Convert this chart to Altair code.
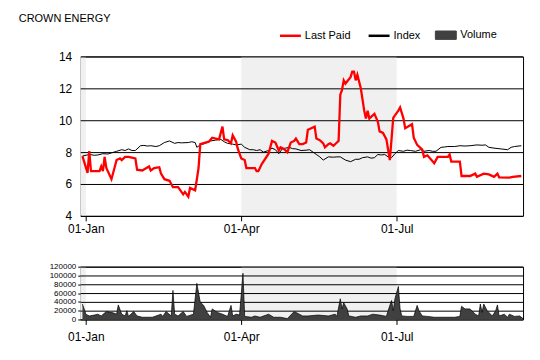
import altair as alt
import pandas as pd

FONT = "Liberation Sans"

# ---------------- data (days counted from 01-Jan) ----------------
price_day = [-2, 1, 2, 3, 8, 9, 10, 11, 12, 15, 18, 20, 21, 23, 25, 29, 30, 33, 37, 38,
             40, 43, 44, 46, 49, 51, 54, 57, 58, 60, 61, 64, 66, 67, 70, 72, 74, 76, 78, 80,
             81, 83, 85, 86, 88, 89, 91, 93, 94, 99, 100, 101, 103, 107, 109, 111, 113, 114, 116, 118,
             120, 122, 123, 125, 127, 129, 130, 132, 134, 135, 137, 139, 140, 142, 143, 145, 147, 148, 149, 150,
             151, 152, 155, 156, 157, 158, 159, 161, 163, 164, 165, 166, 168, 169, 171, 172, 174, 176, 178, 180,
             181, 183, 184, 186, 187, 191, 192, 194, 197, 198, 200, 204, 206, 212, 213, 214, 219, 220, 225, 228,
             229, 233, 236, 239, 241, 242, 248, 250, 255]
price_val = [7.75, 6.7, 8.06, 6.8, 6.8, 7.1, 6.8, 7.7, 7.0, 6.3, 7.5, 7.6, 7.5, 7.7, 7.7, 7.6, 6.9, 6.85, 7.1, 6.85,
             7.0, 7.05, 6.65, 6.3, 6.2, 5.8, 5.8, 5.35, 5.5, 5.2, 5.75, 5.6, 7.0, 8.5, 8.6, 8.65, 8.9, 8.85, 8.8, 9.6,
             8.8, 8.75, 8.55, 9.05, 8.65, 8.2, 7.6, 7.5, 7.0, 7.0, 6.8, 6.8, 7.25, 7.9, 8.7, 8.6, 8.1, 8.3, 8.2, 8.0,
             8.6, 8.7, 8.85, 8.5, 8.5, 8.6, 9.4, 9.5, 9.6, 8.85, 8.75, 8.55, 8.3, 8.5, 8.55, 8.4, 8.6, 8.7, 11.6, 11.9,
             12.5, 12.3, 12.7, 13.05, 13.05, 12.5, 12.85, 12.0, 10.6, 10.1, 10.6, 10.1, 10.3, 10.4, 9.9, 9.3, 9.2, 8.8, 7.5, 10.15,
             10.3, 10.6, 10.8, 10.1, 9.5, 9.75, 8.9, 8.45, 8.15, 7.7, 7.8, 7.3, 7.7, 7.7, 7.85, 7.4, 7.4, 6.5, 6.5, 6.65,
             6.45, 6.65, 6.6, 6.45, 6.65, 6.42, 6.4, 6.45, 6.5]

index_day = [-2, 2, 5, 7, 10, 13, 15, 18, 21, 23, 25, 27, 29, 32, 34, 36, 38, 41, 43, 46,
             49, 52, 54, 56, 60, 62, 64, 65, 67, 70, 73, 76, 79, 81, 83, 86, 88, 91, 93, 96,
             98, 100, 102, 104, 107, 109, 111, 113, 115, 117, 119, 121, 123, 126, 129, 131, 133, 135, 137, 139,
             142, 145, 147, 149, 152, 155, 158, 160, 162, 165, 167, 169, 171, 173, 175, 177, 179, 181, 183, 186,
             188, 190, 193, 196, 198, 201, 203, 205, 208, 210, 212, 216, 219, 222, 225, 229, 232, 234, 236, 239,
             243, 247, 249, 251, 255]
index_val = [7.75, 7.85, 7.8, 7.82, 7.9, 7.88, 7.95, 8.05, 8.15, 8.1, 8.2, 8.1, 8.1, 8.4, 8.42, 8.38, 8.4, 8.35, 8.4, 8.6,
             8.7, 8.55, 8.6, 8.58, 8.6, 8.65, 8.6, 8.3, 8.45, 8.55, 8.7, 8.75, 8.8, 8.65, 8.55, 8.5, 8.45, 8.5, 8.3, 8.15,
             8.15, 8.1, 8.15, 8.0, 8.1, 8.25, 8.15, 7.9, 8.2, 8.25, 8.3, 8.22, 8.2, 8.1, 8.12, 8.15, 8.0, 7.85, 7.7, 7.5,
             7.7, 7.68, 7.7, 7.7, 7.5, 7.4, 7.55, 7.55, 7.65, 7.7, 7.62, 7.65, 7.85, 7.82, 7.85, 7.7, 7.65, 7.9, 8.1, 8.05,
             8.12, 8.1, 8.05, 8.15, 8.05, 8.1, 8.05, 8.05, 8.3, 8.32, 8.35, 8.35, 8.4, 8.38, 8.4, 8.45, 8.43, 8.45, 8.3, 8.25,
             8.2, 8.15, 8.3, 8.35, 8.4]

vol_day = [-2, -1, 0, 2, 5, 7, 9, 12, 16, 18, 19, 21, 23, 24, 25, 28, 30, 33, 39, 44,
           45, 47, 50, 51, 52, 54, 57, 59, 63, 65, 67, 69, 71, 73, 74, 77, 80, 83, 85, 86,
           88, 90, 92, 93, 97, 99, 102, 107, 110, 114, 118, 122, 125, 127, 130, 136, 142, 146, 147, 149,
           150, 151, 153, 154, 158, 161, 165, 168, 172, 176, 177, 179, 180, 181, 183, 184, 185, 188, 192, 194,
           195, 197, 200, 204, 208, 212, 216, 219, 220, 222, 225, 228, 230, 231, 232, 233, 235, 238, 240, 241,
           242, 245, 247, 248, 251, 254, 256]
vol_val = [35000, 24000, 12000, 8000, 10000, 12000, 8000, 18000, 15000, 12000, 33000, 12000, 8000, 20000, 7000, 18000, 8000, 5000, 5000, 12000,
           7000, 18000, 8000, 66000, 12000, 8000, 18000, 7000, 12000, 82000, 39000, 32000, 16000, 5000, 24000, 16000, 12000, 7000, 32000, 8000,
           12000, 10000, 105000, 7000, 5000, 8000, 5000, 12000, 5000, 5000, 2000, 18000, 12000, 8000, 8000, 10000, 8000, 12000, 7000, 47000,
           24000, 38000, 24000, 8000, 5000, 8000, 8000, 12000, 10000, 7000, 20000, 43000, 20000, 47000, 75000, 24000, 8000, 7000, 7000, 32000,
           20000, 8000, 7000, 5000, 5000, 5000, 5000, 7000, 30000, 24000, 24000, 12000, 8000, 35000, 16000, 35000, 20000, 8000, 20000, 33000,
           8000, 12000, 5000, 12000, 7000, 8000, 2000]

series_names = ["Last Paid", "Index", "Volume"]
series_colors = ["#ff0000", "#000000", "#404040"]
price_ticks = [4, 6, 8, 10, 12, 14]
volume_ticks = [0, 20000, 40000, 60000, 80000, 100000, 120000]
shade_start = ["2023-10-01", "2024-04-01"]
shade_end = ["2024-01-01", "2024-07-01"]
year_start = "2024-01-01"
title_text = "CROWN ENERGY"


def to_dates(days):
    idx = pd.Timestamp(year_start) + pd.to_timedelta(days, unit="D")
    return idx.strftime("%Y-%m-%d").tolist()


price_df = pd.DataFrame({"date": to_dates(price_day), "value": price_val, "series": "Last Paid"})
index_df = pd.DataFrame({"date": to_dates(index_day), "value": index_val, "series": "Index"})
vol_df = pd.DataFrame({"date": to_dates(vol_day), "volume": vol_val})
shade_df = pd.DataFrame({"start": shade_start, "end": shade_end})
pgrid_df = pd.DataFrame({"value": price_ticks})
vgrid_df = pd.DataFrame({"volume": volume_ticks})

x_scale = alt.Scale(type="utc", domain=[alt.DateTime(year=2023, month=12, date=29, utc=True),
                                        alt.DateTime(year=2024, month=9, date=13, utc=True)])
tick_vals = [alt.DateTime(year=2024, month=m, date=1, utc=True) for m in (1, 4, 7)]


def x_axis(pad):
    return alt.Axis(values=tick_vals, labelExpr="utcFormat(datum.value, '%d-%b')", title=None, grid=False,
                    domain=False, tickSize=5, tickColor="black", labelFontSize=12, labelFont=FONT,
                    labelColor="black", labelPadding=pad)


def build(fancy=True):
    legend_kw = dict(title=None, orient="none", legendX=205, legendY=-27, direction="horizontal",
                     symbolType="stroke", symbolSize=441, symbolStrokeWidth=2.5,
                     labelFontSize=11, labelFont=FONT, labelColor="black", labelOffset=9,
                     columnPadding=13, padding=0)
    if fancy:
        legend_kw.update(
            symbolType=alt.ExprRef("datum.value === 'Volume' ? 'M-1,-0.4H1V0.4H-1Z' : 'stroke'"),
            symbolFillColor=alt.ExprRef("datum.value === 'Volume' ? '#404040' : 'transparent'"),
            symbolStrokeColor=alt.ExprRef("datum.value === 'Last Paid' ? '#ff0000' : '#000000'"),
            symbolStrokeWidth=alt.ExprRef("datum.value === 'Volume' ? 1 : 2.5"),
        )
    color = alt.Color("series:N", scale=alt.Scale(domain=series_names, range=series_colors),
                      legend=alt.Legend(**legend_kw))

    p_scale = alt.Scale(domain=[4, 14], nice=False, zero=False)
    p_axis = alt.Axis(values=price_ticks, title=None, grid=False, domain=False, tickSize=0,
                      labelPadding=9, labelFontSize=12, labelFont=FONT, labelColor="black")
    y_price = alt.Y("value:Q", scale=p_scale, axis=p_axis, title=None)
    x_up = alt.X("date:T", scale=x_scale, axis=x_axis(3), title=None)

    shade_up = alt.Chart(shade_df).mark_rect(color="#f0f0f0", clip=True).encode(
        x=alt.X("start:T", scale=x_scale, axis=x_axis(3), title=None), x2="end:T")
    grid_up = alt.Chart(pgrid_df).mark_rule(color="black", strokeWidth=1, yOffset=0.5).encode(y=y_price)
    idx_line = alt.Chart(index_df).mark_line(strokeWidth=1).encode(x=x_up, y=y_price, color=color)
    prc_line = alt.Chart(price_df).mark_line(strokeWidth=2.3).encode(x=x_up, y=y_price, color=color)
    upper = alt.layer(shade_up, grid_up, idx_line, prc_line).properties(width=444, height=160)

    v_scale = alt.Scale(domain=[0, 120000], nice=False)
    v_axis = alt.Axis(values=volume_ticks, format="d", title=None, grid=False, domain=False, tickSize=3,
                      tickColor="black", labelPadding=2, labelFontSize=8, labelFont=FONT,
                      labelColor="black")
    y_vol = alt.Y("volume:Q", scale=v_scale, axis=v_axis, title=None)
    x_lo = alt.X("date:T", scale=x_scale, axis=x_axis(7), title=None)
    shade_lo = alt.Chart(shade_df).mark_rect(color="#f0f0f0", clip=True).encode(
        x=alt.X("start:T", scale=x_scale, axis=x_axis(7), title=None), x2="end:T")
    grid_lo = alt.Chart(vgrid_df).mark_rule(color="black", strokeWidth=1, yOffset=0.5).encode(y=y_vol)
    area = alt.Chart(vol_df).mark_area(color="#404040", opacity=1,
                                       line={"color": "black", "strokeWidth": 0.7}).encode(x=x_lo, y=y_vol)
    lower = alt.layer(shade_lo, grid_lo, area).properties(width=444, height=53)

    chart = alt.vconcat(upper, lower, spacing=26).resolve_scale(color="independent").properties(
        title=alt.TitleParams(title_text, anchor="start", fontSize=11, fontWeight="normal", font=FONT,
                              color="black", offset=5, dx=-30),
        padding={"left": 10, "top": 4, "right": 5, "bottom": 5},
    ).configure_view(stroke="black", strokeWidth=1)
    return chart


try:
    chart = build(True)
    chart.to_dict()
except Exception:
    chart = build(False)

chart.save("out.html", embed_options={"renderer": "svg", "actions": False})
